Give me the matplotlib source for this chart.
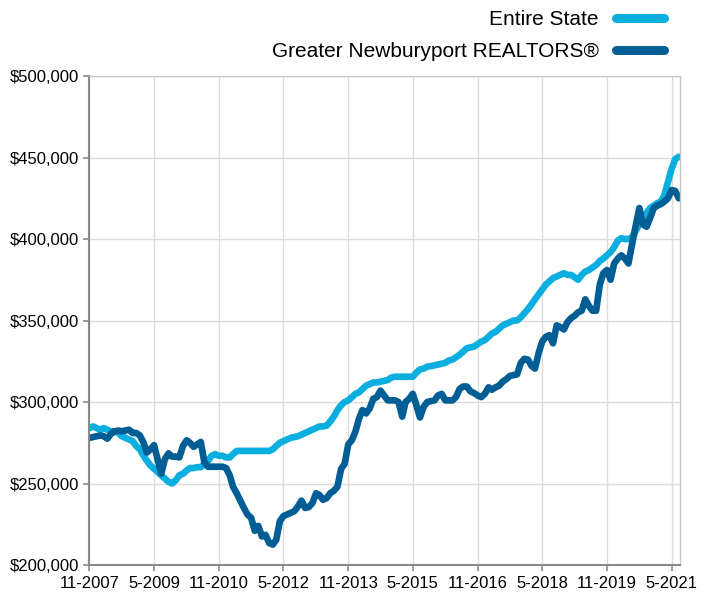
import matplotlib.pyplot as plt
import pandas as pd

plt.rcParams['font.family'] = ['Liberation Sans', 'DejaVu Sans']

# monthly median sale price, 11-2007 .. 7-2021 (thousands of $)
months = pd.date_range('2007-11-01', periods=165, freq='MS')

entire_state = [
    284, 285, 284, 283, 284, 283, 282, 282, 281, 279,
    278, 277, 276, 273, 271, 267, 264, 261, 259, 257,
    255, 253, 251, 250, 252, 255, 256, 258, 259.5, 259.5,
    260, 260, 262, 264, 267, 268, 267, 267, 266, 266,
    268, 270, 270, 270, 270, 270, 270, 270, 270, 270,
    270, 271, 273, 275, 276, 277, 278, 278.5, 279, 280,
    281, 282, 283, 284, 285, 285, 285.5, 288, 291, 295,
    298, 300, 301, 303, 305, 306, 308, 310, 311, 312,
    312, 312.5, 313, 313.5, 315, 315.5, 315.5, 315.5, 315.5, 315.5,
    315.5, 318, 320, 320.5, 321.7, 322, 322.5, 323, 323.5, 324,
    325.5, 326, 327.5, 329, 331, 333, 333.5, 334, 335.5, 337,
    338, 340, 342, 343, 345, 347, 348, 349, 350, 350,
    352, 354.5, 357, 360, 363, 366, 369, 372, 374, 376,
    377, 378, 379, 378, 378, 376.5, 375, 378, 380, 381,
    382.5, 384, 386.5, 388, 390, 392, 395, 399, 400.5, 400,
    400, 401, 405, 409, 412, 416, 419, 420.5, 422, 423,
    427, 435, 443, 449, 450.5,
]

newburyport = [
    278, 278.5, 279, 279.5, 279, 277.5, 280.5, 282, 282.5, 282,
    282.5, 283, 281, 281, 279.5, 275, 269, 271, 273.5, 264.5,
    256, 265, 268.5, 266.5, 266.5, 266, 273, 276.5, 275, 272.5,
    274, 275.5, 263, 260.3, 260.3, 260.3, 260.3, 260.3, 259.5, 255,
    248, 244, 239.5, 235, 231, 229, 221, 224, 217.5, 218.5,
    213.5, 212.5, 215.5, 227, 230, 231, 232, 233, 236, 239.5,
    235, 235.5, 238, 244, 243, 240, 241, 244, 245.5, 248,
    259, 262, 274, 276.5, 282, 290, 295, 293, 296, 302,
    303, 307, 304, 301, 301, 301, 300, 291, 300, 302,
    305, 298, 290.5, 297, 300, 300.5, 301, 304, 305, 301,
    301, 301, 303, 308, 309.5, 309.5, 306.5, 305.5, 304, 303,
    305, 309, 307.5, 309, 310, 312.5, 314, 316, 316.5, 317,
    324, 326.5, 326, 322, 320.5, 330, 337, 340, 341, 336,
    347, 346, 344.5, 349, 351.5, 353, 355, 356, 363, 359,
    356, 356, 372, 379, 381, 375, 385, 388, 390, 388,
    385, 397, 408, 419, 409, 407.5, 413, 419, 420.5, 421.5,
    423, 425, 430, 429.5, 425,
]

state_color = '#0aafdf'
local_color = '#005e95'

fig = plt.figure(figsize=(7.1, 5.92), dpi=100)
ax = fig.add_axes([0.126, 0.0456, 0.832, 0.826])

ax.plot(months, [v * 1000 for v in entire_state], color=state_color, lw=4.8,
        solid_capstyle='round', solid_joinstyle='round', label='Entire State')
ax.plot(months, [v * 1000 for v in newburyport], color=local_color, lw=4.8,
        solid_capstyle='round', solid_joinstyle='round',
        label='Greater Newburyport REALTORS®')

ax.set_ylim(200000, 500000)
ax.set_yticks(range(200000, 500001, 50000))
ax.yaxis.set_major_formatter(plt.FuncFormatter(lambda v, p: '${:,.0f}'.format(v)))

xticks = pd.date_range('2007-11-01', '2021-05-01', freq='18MS')
ax.set_xticks(xticks)
ax.set_xticklabels(['{}-{}'.format(d.month, d.year) for d in xticks])
ax.set_xlim(months[0], months[-1] + pd.Timedelta(days=12))

ax.grid(True, color='#dcdcdc', lw=1)
ax.set_axisbelow(True)
for s in ['left', 'bottom']:
    ax.spines[s].set_color('#8a8a8a')
    ax.spines[s].set_linewidth(1.5)
for s in ['top', 'right']:
    ax.spines[s].set_color('#c8c8c8')
    ax.spines[s].set_linewidth(1)
ax.tick_params(axis='both', labelsize=12, color='#8a8a8a', length=4, width=1.2,
               labelcolor='black')
ax.tick_params(axis='x', pad=4)

leg = fig.legend(loc='upper right', bbox_to_anchor=(0.962, 1.014), frameon=False,
                 markerfirst=False, fontsize=15, handlelength=2.3,
                 handletextpad=0.85, labelspacing=0.6)
for line in leg.get_lines():
    line.set_linewidth(6.5)
    line.set_solid_capstyle('round')

fig.savefig('out.png', dpi=100)
